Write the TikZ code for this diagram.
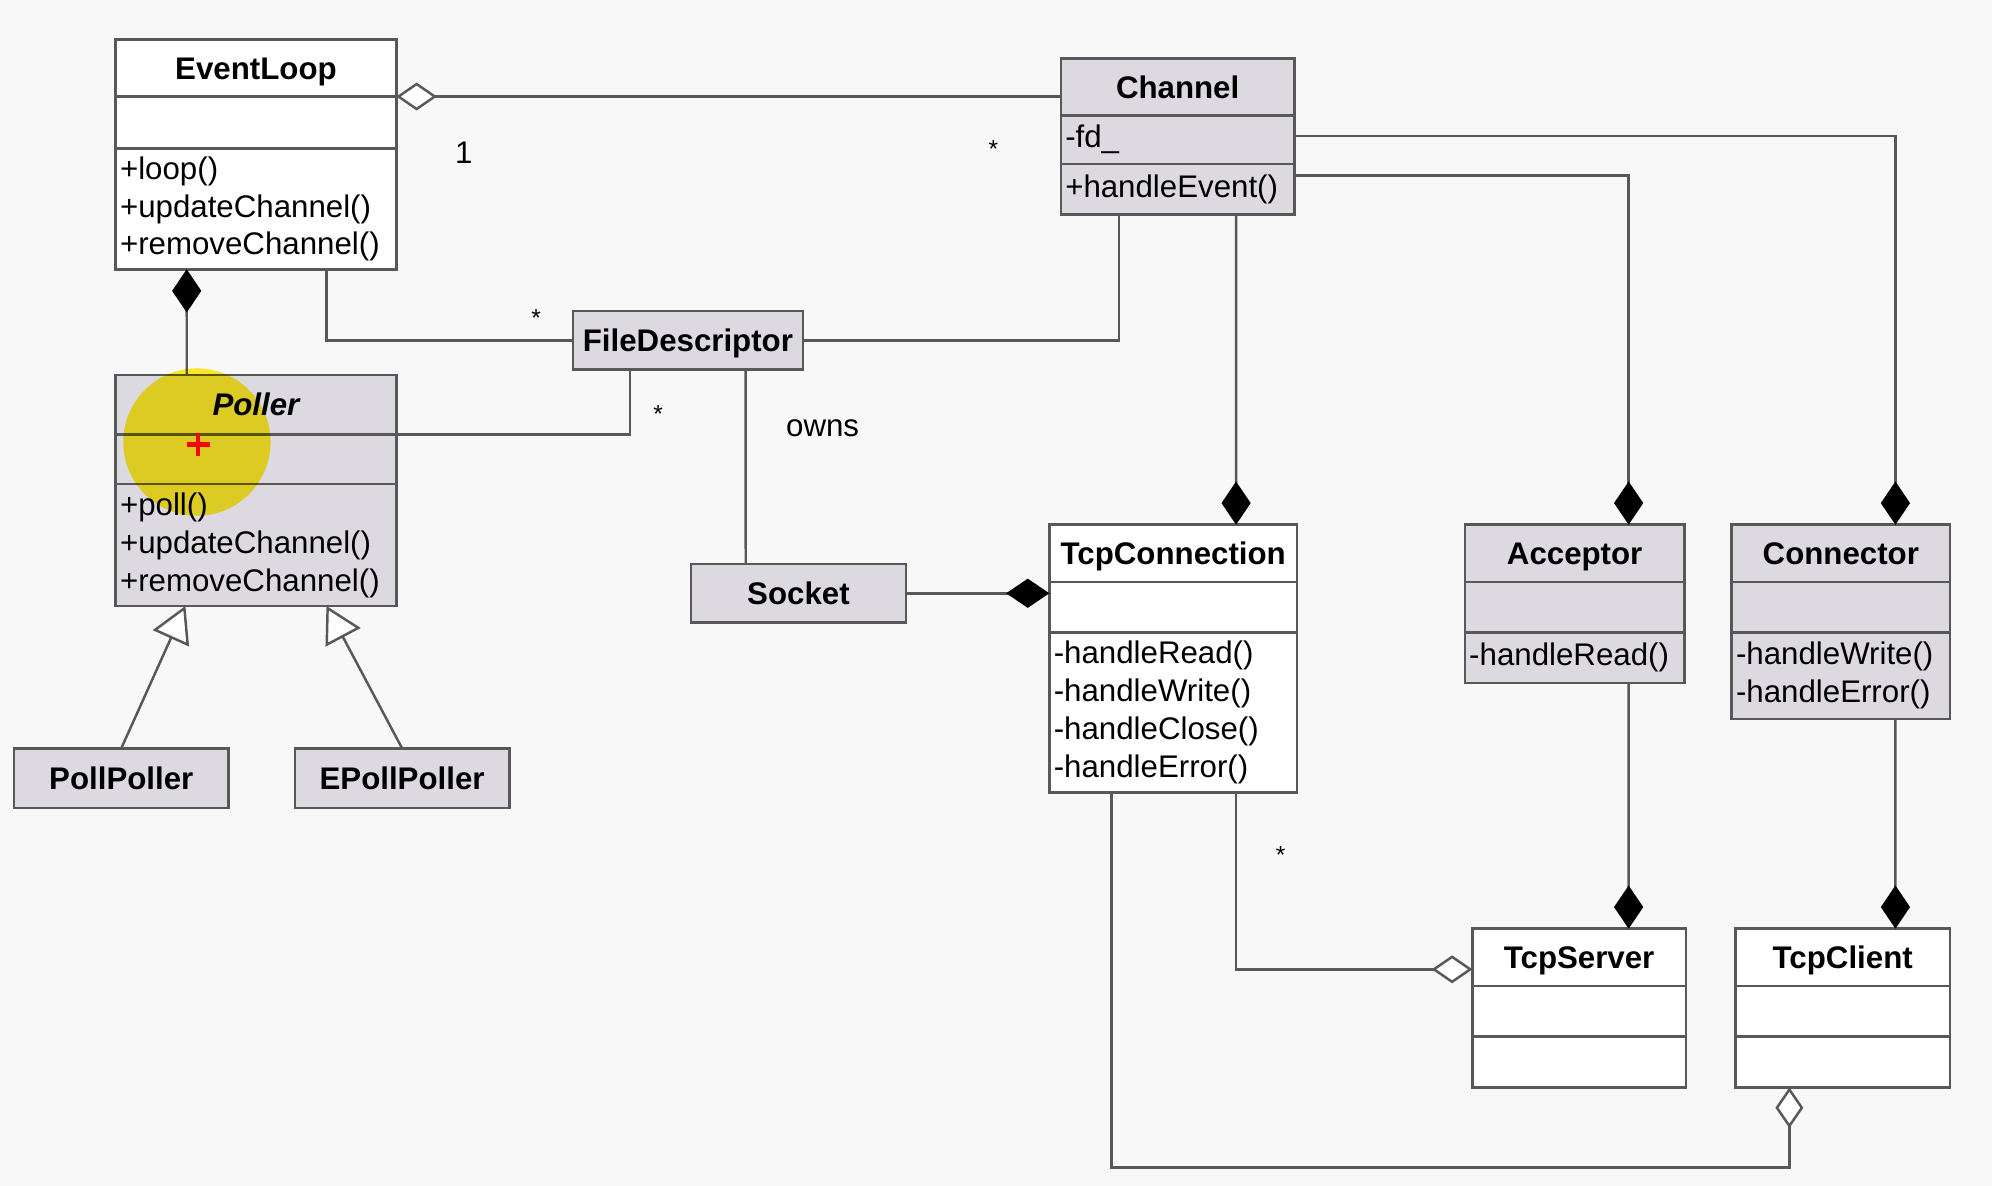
\documentclass[tikz,border=0pt]{standalone}
\usepackage{fontspec}
\setmainfont{Liberation Sans}
\usetikzlibrary{positioning,arrows.meta}

\definecolor{linegray}{RGB}{88,88,88}
\definecolor{boxgray}{RGB}{220,218,224}
\definecolor{paper}{RGB}{248,248,248}
\definecolor{marker}{RGB}{255,238,40}

\begin{document}
\begin{tikzpicture}[
    x = 0.02cm, y = -0.02cm, % one unit = one pixel of the screenshot
    line width = 1.1pt, % line style
    font = \fontsize{14}{17}\selectfont
  ]

  \tikzstyle{part}=[rectangle, draw=linegray, fill=white, outer sep=0pt, inner sep=2pt]
  \tikzstyle{head}=[part, text height=12pt, text depth=2pt, font=\bfseries\fontsize{14}{17}\selectfont]
  \tikzstyle{ops}=[part, align=left, inner xsep=2pt, inner ysep=1pt]
  \tikzstyle{tinted}=[fill=boxgray]
  \tikzstyle{link}=[draw=linegray]
  \tikzstyle{comp}=[link, -{Diamond[length=0.68cm, width=0.46cm, color=black]}]
  \tikzstyle{agg}=[link, -{Diamond[length=0.64cm, width=0.44cm, fill=white]}]
  \tikzstyle{inh}=[link, -{Triangle[length=0.56cm, width=0.62cm, fill=white]}]

  \fill[paper] (0,0) rectangle (1568,933.5);

  % left column
  \node[head, minimum width=4.42cm, minimum height=0.9cm, anchor=north west] (el) at (91,31) {EventLoop};
  \node[part, minimum width=4.42cm, minimum height=0.82cm, below=0pt of el] (el-a) {};
  \node[ops, text width=4.28cm, minimum height=1.9cm, below=0pt of el-a] (el-m) {+loop()\\+updateChannel()\\+removeChannel()};

  \node[head, tinted, minimum width=4.42cm, minimum height=0.94cm, anchor=north west] (pl) at (91,295) {\itshape Poller};
  \node[part, tinted, minimum width=4.42cm, minimum height=0.78cm, below=0pt of pl] (pl-a) {};
  \node[ops, tinted, text width=4.28cm, minimum height=1.92cm, below=0pt of pl-a] (pl-m) {+poll()\\+updateChannel()\\+removeChannel()};

  \node[head, tinted, minimum width=3.38cm, minimum height=0.94cm, anchor=north west] (pp) at (11,589) {PollPoller};
  \node[head, tinted, minimum width=3.38cm, minimum height=0.94cm, anchor=north west] (ep) at (232,589) {EPollPoller};

  % middle
  \node[head, tinted, minimum width=3.62cm, minimum height=0.92cm, anchor=north west] (fd) at (451,245) {FileDescriptor};
  \node[head, tinted, minimum width=3.38cm, minimum height=0.92cm, anchor=north west] (sk) at (544,444) {Socket};

  \node[head, tinted, minimum width=3.68cm, minimum height=0.9cm, anchor=north west] (ch) at (835,46) {Channel};
  \node[ops, tinted, text width=3.54cm, minimum height=0.76cm, below=0pt of ch] (ch-a) {-fd\_};
  \node[ops, tinted, text width=3.54cm, minimum height=0.8cm, below=0pt of ch-a] (ch-m) {+handleEvent()};

  \node[head, minimum width=3.9cm, minimum height=0.9cm, anchor=north west] (tc) at (826,413) {TcpConnection};
  \node[part, minimum width=3.9cm, minimum height=0.8cm, below=0pt of tc] (tc-a) {};
  \node[ops, text width=3.76cm, minimum height=2.52cm, below=0pt of tc-a] (tc-m) {-handleRead()\\-handleWrite()\\-handleClose()\\-handleError()};

  % right column
  \node[head, tinted, minimum width=3.46cm, minimum height=0.9cm, anchor=north west] (ac) at (1153,413) {Acceptor};
  \node[part, tinted, minimum width=3.46cm, minimum height=0.8cm, below=0pt of ac] (ac-a) {};
  \node[ops, tinted, text width=3.32cm, minimum height=0.79cm, below=0pt of ac-a] (ac-m) {-handleRead()};

  \node[head, tinted, minimum width=3.44cm, minimum height=0.9cm, anchor=north west] (cn) at (1363,413) {Connector};
  \node[part, tinted, minimum width=3.44cm, minimum height=0.8cm, below=0pt of cn] (cn-a) {};
  \node[ops, tinted, text width=3.3cm, minimum height=1.36cm, below=0pt of cn-a] (cn-m) {-handleWrite()\\-handleError()};

  \node[head, minimum width=3.36cm, minimum height=0.9cm, anchor=north west] (ts) at (1159,731) {TcpServer};
  \node[part, minimum width=3.36cm, minimum height=0.8cm, below=0pt of ts] (ts-a) {};
  \node[part, minimum width=3.36cm, minimum height=0.8cm, below=0pt of ts-a] (ts-m) {};

  \node[head, minimum width=3.38cm, minimum height=0.9cm, anchor=north west] (cl) at (1366,731) {TcpClient};
  \node[part, minimum width=3.38cm, minimum height=0.8cm, below=0pt of cl] (cl-a) {};
  \node[part, minimum width=3.38cm, minimum height=0.8cm, below=0pt of cl-a] (cl-m) {};

  % associations
  \draw[agg] (el.south east -| ch.west) -- (el.south east);
  \draw[comp] ([xshift=1.12cm]pl.north west) -- ([xshift=1.12cm]el-m.south west);
  \draw[link] ([xshift=-1.1cm]el-m.south east) |- (fd.west);
  \draw[link] (pl.south east) -| ([xshift=0.9cm]fd.south west);
  \draw[link] ([xshift=0.92cm]ch-m.south west) |- (fd.east);
  \draw[link] ([xshift=2.72cm]fd.south west) -- ([xshift=0.86cm]sk.north west);
  \draw[inh] (pp.north) -- ([xshift=1.1cm]pl-m.south west);
  \draw[inh] (ep.north) -- ([xshift=3.32cm]pl-m.south west);

  \draw[comp] (sk.east) -- (sk.east -| tc-a.west);
  \draw[comp] ([xshift=2.76cm]ch-m.south west) -- ([xshift=2.94cm]tc.north west);
  \draw[comp] ([yshift=-0.18cm]ch-m.north east) -| ([xshift=2.58cm]ac.north west);
  \draw[comp] ([yshift=-0.32cm]ch-a.north east) -| ([xshift=2.58cm]cn.north west);
  \draw[comp] ([xshift=2.58cm]ac-m.south west) -- ([xshift=2.46cm]ts.north west);
  \draw[comp] ([xshift=2.58cm]cn-m.south west) -- ([xshift=2.52cm]cl.north west);
  \draw[agg] ([xshift=2.94cm]tc-m.south west) |- ([yshift=-0.19cm]ts.west);
  \draw[agg] ([xshift=0.98cm]tc-m.south west) -- ++(0,295) -| ([xshift=0.85cm]cl-m.south west);

  % multiplicities
  \node (one) at (365,120) {1};
  \node[font=\fontsize{11}{13}\selectfont] (m1) at (782,117) {*};
  \node[font=\fontsize{11}{13}\selectfont] (m2) at (422,250) {*};
  \node[font=\fontsize{11}{13}\selectfont] (m3) at (518,326) {*};
  \node[font=\fontsize{11}{13}\selectfont] (m4) at (1008,673) {*};
  \node[anchor=west] (owns) at (612,337) {owns};

  % cursor highlight
  \fill[marker, blend mode=multiply] (155,348) circle (1.16cm);
  \draw[red, line width=2pt] (147,350) -- (165,350) (156,341) -- (156,359);

\end{tikzpicture}
\end{document}
